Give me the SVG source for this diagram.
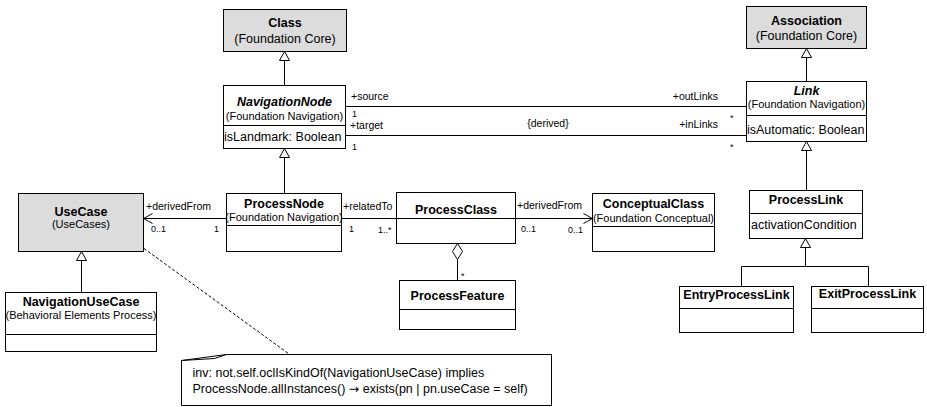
<svg xmlns="http://www.w3.org/2000/svg" width="927" height="407" viewBox="0 0 927 407">
<defs>
<style>
text{font-family:"Liberation Sans",Arial,Helvetica,sans-serif;fill:#000}
.box{fill:#fff;stroke:#000;stroke-width:1}
.grey{fill:#dcdcdc;stroke:#000;stroke-width:1}
.ln{stroke:#000;stroke-width:1;fill:none}
.dash{stroke:#000;stroke-width:1;fill:none;stroke-dasharray:3,2}
.tri{fill:#fff;stroke:#000;stroke-width:1}
.name{font-size:12.5px;font-weight:bold;text-anchor:middle}
.ital{font-style:italic}
.sub{font-size:11px;text-anchor:middle}
.sub2{font-size:12.5px;text-anchor:middle}
.attr{font-size:12.5px}
.role{font-size:10.5px}
.end{text-anchor:end}
.mid{text-anchor:middle}
.mult{font-size:9px}
.note{font-size:12.5px}
.arrow{font-family:"DejaVu Sans",sans-serif}
</style>
</defs>

<g id="connectors">
  <!-- generalizations -->
  <line class="ln" x1="284.5" y1="60.5" x2="284.5" y2="85.5"/>
  <polygon class="tri" points="284.5,51.5 279.5,60.5 289.5,60.5"/>
  <line class="ln" x1="284.5" y1="157.5" x2="284.5" y2="193.5"/>
  <polygon class="tri" points="284.5,148.5 279.5,157.5 289.5,157.5"/>
  <line class="ln" x1="806.5" y1="57.5" x2="806.5" y2="81.5"/>
  <polygon class="tri" points="806.5,48.5 801.5,57.5 811.5,57.5"/>
  <line class="ln" x1="806.5" y1="150.5" x2="806.5" y2="190.5"/>
  <polygon class="tri" points="806.5,141.5 801.5,150.5 811.5,150.5"/>
  <path class="ln" d="M741.5,286.5 V266.5 H868.5 V286.5 M805.5,266.5 V247.5"/>
  <polygon class="tri" points="805.5,238.5 800.5,247.5 810.5,247.5"/>
  <line class="ln" x1="81.5" y1="260.5" x2="81.5" y2="292.5"/>
  <polygon class="tri" points="81.5,251.5 76.5,260.5 86.5,260.5"/>
  <!-- associations -->
  <line class="ln" x1="345.5" y1="106.5" x2="746.5" y2="106.5"/>
  <line class="ln" x1="345.5" y1="135.5" x2="746.5" y2="135.5"/>
  <line class="ln" x1="143.5" y1="218.5" x2="226.5" y2="218.5"/>
  <path class="ln" d="M152.5,213.5 L143.5,218.5 L152.5,223.5"/>
  <line class="ln" x1="341.5" y1="218.5" x2="396.5" y2="218.5"/>
  <line class="ln" x1="515.5" y1="218.5" x2="592.5" y2="218.5"/>
  <path class="ln" d="M583.5,213.5 L592.5,218.5 L583.5,223.5"/>
  <polygon class="tri" points="457.5,243.5 452.5,251.5 457.5,259.5 462.5,251.5"/>
  <line class="ln" x1="457.5" y1="259.5" x2="457.5" y2="280.5"/>
  <line class="dash" x1="144" y1="248.5" x2="289" y2="354"/>
  <!-- labels -->
  <text class="role" x="351" y="100">+source</text>
  <text class="mult" x="352" y="117">1</text>
  <text class="role" x="350" y="129">+target</text>
  <text class="mult" x="352" y="150">1</text>
  <text class="role end" x="718" y="100">+outLinks</text>
  <text class="mult" x="730" y="121">*</text>
  <text class="role end" x="718" y="128">+inLinks</text>
  <text class="mult" x="730" y="150">*</text>
  <text class="role mid" x="548" y="127">{derived}</text>
  <text class="role" x="146" y="210">+derivedFrom</text>
  <text class="mult" x="151" y="232">0..1</text>
  <text class="mult" x="214" y="232">1</text>
  <text class="role" x="343" y="210">+relatedTo</text>
  <text class="mult" x="349" y="232">1</text>
  <text class="mult" x="378" y="233">1..*</text>
  <text class="role" x="517" y="209">+derivedFrom</text>
  <text class="mult" x="521" y="232">0..1</text>
  <text class="mult" x="568" y="233">0..1</text>
  <text class="mult" x="461" y="279">*</text>
</g>

<g id="Class">
  <rect class="grey" x="223.5" y="9.5" width="123" height="42"/>
  <text class="name" x="285" y="27">Class</text>
  <text class="sub2" x="285" y="43">(Foundation Core)</text>
</g>

<g id="NavigationNode">
  <rect class="box" x="223.5" y="85.5" width="122" height="63"/>
  <line class="ln" x1="223.5" y1="125.5" x2="345.5" y2="125.5"/>
  <text class="name ital" x="284.5" y="106">NavigationNode</text>
  <text class="sub" x="284.5" y="120">(Foundation Navigation)</text>
  <text class="attr" x="224" y="141">isLandmark: Boolean</text>
</g>

<g id="Association">
  <rect class="grey" x="746.5" y="6.5" width="120" height="42"/>
  <text class="name" x="806.5" y="25">Association</text>
  <text class="sub2" x="806.5" y="40">(Foundation Core)</text>
</g>

<g id="Link">
  <rect class="box" x="746.5" y="81.5" width="120" height="60"/>
  <line class="ln" x1="746.5" y1="115.5" x2="866.5" y2="115.5"/>
  <text class="name ital" x="806.5" y="95">Link</text>
  <text class="sub" x="806.5" y="108">(Foundation Navigation)</text>
  <text class="attr" x="747" y="134">isAutomatic: Boolean</text>
</g>

<g id="UseCase">
  <rect class="grey" x="18.5" y="193.5" width="125" height="58"/>
  <text class="name" x="81" y="216">UseCase</text>
  <text class="sub" x="81" y="228">(UseCases)</text>
</g>

<g id="NavigationUseCase">
  <rect class="box" x="5.5" y="292.5" width="151" height="59"/>
  <line class="ln" x1="5.5" y1="334.5" x2="156.5" y2="334.5"/>
  <text class="name" x="81" y="306">NavigationUseCase</text>
  <text class="sub" x="81" y="319">(Behavioral Elements Process)</text>
</g>

<g id="ProcessNode">
  <rect class="box" x="226.5" y="193.5" width="115" height="58"/>
  <line class="ln" x1="226.5" y1="225.5" x2="341.5" y2="225.5"/>
  <text class="name" x="284" y="208">ProcessNode</text>
  <text class="sub" x="284" y="221">(Foundation Navigation)</text>
</g>

<g id="ProcessClass">
  <rect class="box" x="396.5" y="192.5" width="119" height="51"/>
  <line class="ln" x1="396.5" y1="218.5" x2="515.5" y2="218.5"/>
  <text class="name" x="456" y="214">ProcessClass</text>
</g>

<g id="ConceptualClass">
  <rect class="box" x="592.5" y="193.5" width="122" height="58"/>
  <line class="ln" x1="592.5" y1="226.5" x2="714.5" y2="226.5"/>
  <text class="name" x="653.5" y="208">ConceptualClass</text>
  <text class="sub" x="653.5" y="222">(Foundation Conceptual)</text>
</g>

<g id="ProcessFeature">
  <rect class="box" x="399.5" y="280.5" width="116" height="49"/>
  <line class="ln" x1="399.5" y1="309.5" x2="515.5" y2="309.5"/>
  <text class="name" x="457.5" y="300">ProcessFeature</text>
</g>

<g id="ProcessLink">
  <rect class="box" x="749.5" y="190.5" width="113" height="48"/>
  <line class="ln" x1="749.5" y1="213.5" x2="862.5" y2="213.5"/>
  <text class="name" x="806" y="204">ProcessLink</text>
  <text class="attr" x="751" y="229">activationCondition</text>
</g>

<g id="EntryProcessLink">
  <rect class="box" x="679.5" y="286.5" width="114" height="46"/>
  <line class="ln" x1="679.5" y1="308.5" x2="793.5" y2="308.5"/>
  <text class="name" x="736.5" y="299">EntryProcessLink</text>
</g>

<g id="ExitProcessLink">
  <rect class="box" x="811.5" y="286.5" width="112" height="46"/>
  <line class="ln" x1="811.5" y1="308.5" x2="923.5" y2="308.5"/>
  <text class="name" x="867.5" y="298">ExitProcessLink</text>
</g>

<g id="Note">
  <path class="box" d="M181.5,405.5 L181.5,360.5 L226.5,354.5 L551.5,354.5 L551.5,405.5 Z"/>
  <path class="ln" d="M181.5,360.5 L214.5,358.5 L226.5,354.5"/>
  <text class="note" x="192.5" y="377">inv: not.self.oclIsKindOf(NavigationUseCase) implies</text>
  <text class="note" x="192.5" y="393">ProcessNode.allInstances() <tspan class="arrow">→</tspan> exists(pn | pn.useCase = self)</text>
</g>
</svg>
